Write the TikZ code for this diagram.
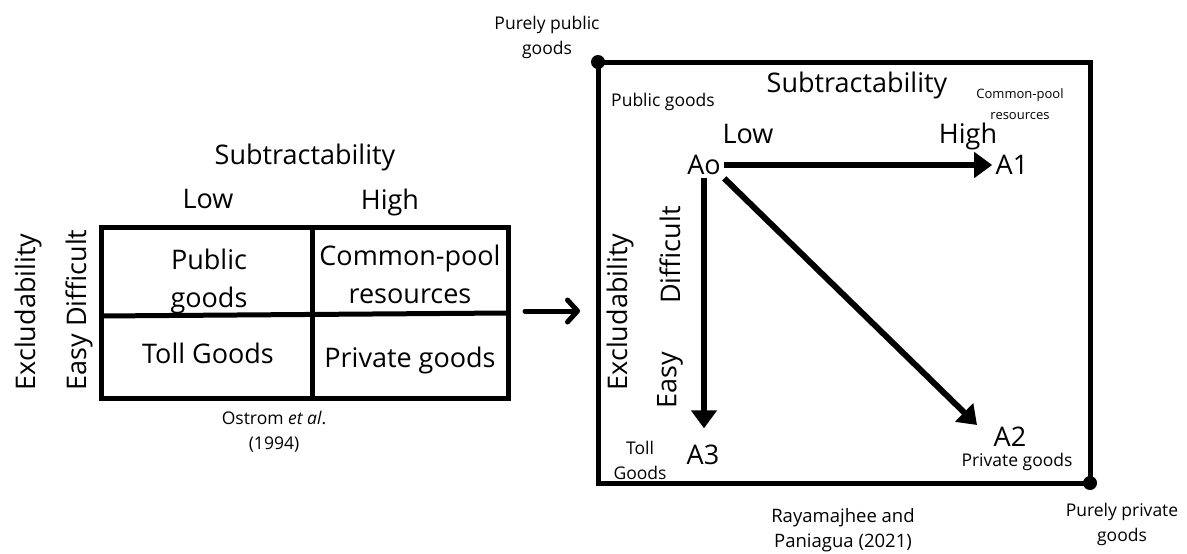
\documentclass[tikz,border=0pt]{standalone}
\usepackage{fontspec}
\setmainfont{Open Sans}
\usetikzlibrary{arrows.meta}

\begin{document}
\begin{tikzpicture}[x=1pt, y=-1pt,
    big/.style={font=\fontsize{27}{32}\selectfont},
    cell/.style={font=\fontsize{27}{38}\selectfont, align=center},
    note/.style={font=\fontsize{17.5}{25}\selectfont, align=center},
    tiny/.style={font=\fontsize{13}{21}\selectfont, align=center},
    frame/.style={line width=5pt},
    arr/.style={line width=6pt, -{Triangle[length=18pt,width=25pt]}},
    chev/.style={line width=5pt, line cap=round, -{Straight Barb[length=10pt,width=22pt,round]}},
    corner/.style={circle, fill, inner sep=0pt, minimum size=14pt}]

  \useasboundingbox (0,0) rectangle (1187,554);

  % Left table (Ostrom et al.)
  \draw[frame] (101,227) rectangle (508,398);
  \draw[frame] (312,227) -- (312,398);
  \draw[frame] (101,316) -- (508,313);
  \node[big] (Lsub) at (305,157) {Subtractability};
  \node[big] (Llow) at (208,199) {Low};
  \node[big] (Lhigh) at (390,202) {High};
  \node[big, rotate=90] (Lexc) at (28,312) {Excludability};
  \node[big, rotate=90] (Lde) at (79,310) {Easy Difficult};
  \node[cell] (public) at (209,281) {Public\\goods};
  \node[cell] (cpr) at (410,274) {Common-pool\\resources};
  \node[cell] (toll) at (208,353) {Toll Goods};
  \node[cell] (private) at (410,360) {Private goods};
  \node[note] (ostrom) at (274,432) {Ostrom \textit{et al}.\\(1994)};

  % Arrow between the two tables
  \coordinate (from) at (525,311);
  \coordinate (to) at (580,311);
  \draw[chev] (from) -- (to);

  % Right box (Rayamajhee and Paniagua)
  \draw[frame] (598,62) rectangle (1090,483);
  \node[corner] (pubdot) at (598,62) {};
  \node[corner] (pridot) at (1090,483) {};
  \node[note] (purepub) at (547,37) {Purely public\\goods};
  \node[note] (purepri) at (1122,524) {Purely private\\goods};
  \node[big] (Rsub) at (857,85) {Subtractability};
  \node[note] (Rpublic) at (663,102) {Public goods};
  \node[tiny] (Rcpr) at (1020,104) {Common-pool\\resources};
  \node[big] (Rlow) at (748,134) {Low};
  \node[big] (Rhigh) at (968,136) {High};
  \node[big, rotate=90] (Rexc) at (620,312) {Excludability};
  \node[big, rotate=90] (Rdiff) at (670,255) {Difficult};
  \node[big, rotate=90] (Reasy) at (670,380) {Easy};
  \node[big] (Ao) at (704,165) {Ao};
  \node[big] (A1) at (1012,165) {A1};
  \node[big] (A2) at (1010,437) {A2};
  \node[big] (A3) at (703,455) {A3};
  \node[note] (Rprivate) at (1017,462) {Private goods};
  \node[note] (Rtoll) at (640,460) {Toll\\Goods};
  \node[note, font=\fontsize{18.5}{25}\selectfont] (rayam) at (843,530) {Rayamajhee and\\Paniagua (2021)};

  % Connections from Ao
  \draw[arr] (Ao) -- (A1);
  \draw[arr] (Ao.south) -- ++(0,250);
  \draw[arr] (Ao.south east) -- (977,425);

\end{tikzpicture}
\end{document}
